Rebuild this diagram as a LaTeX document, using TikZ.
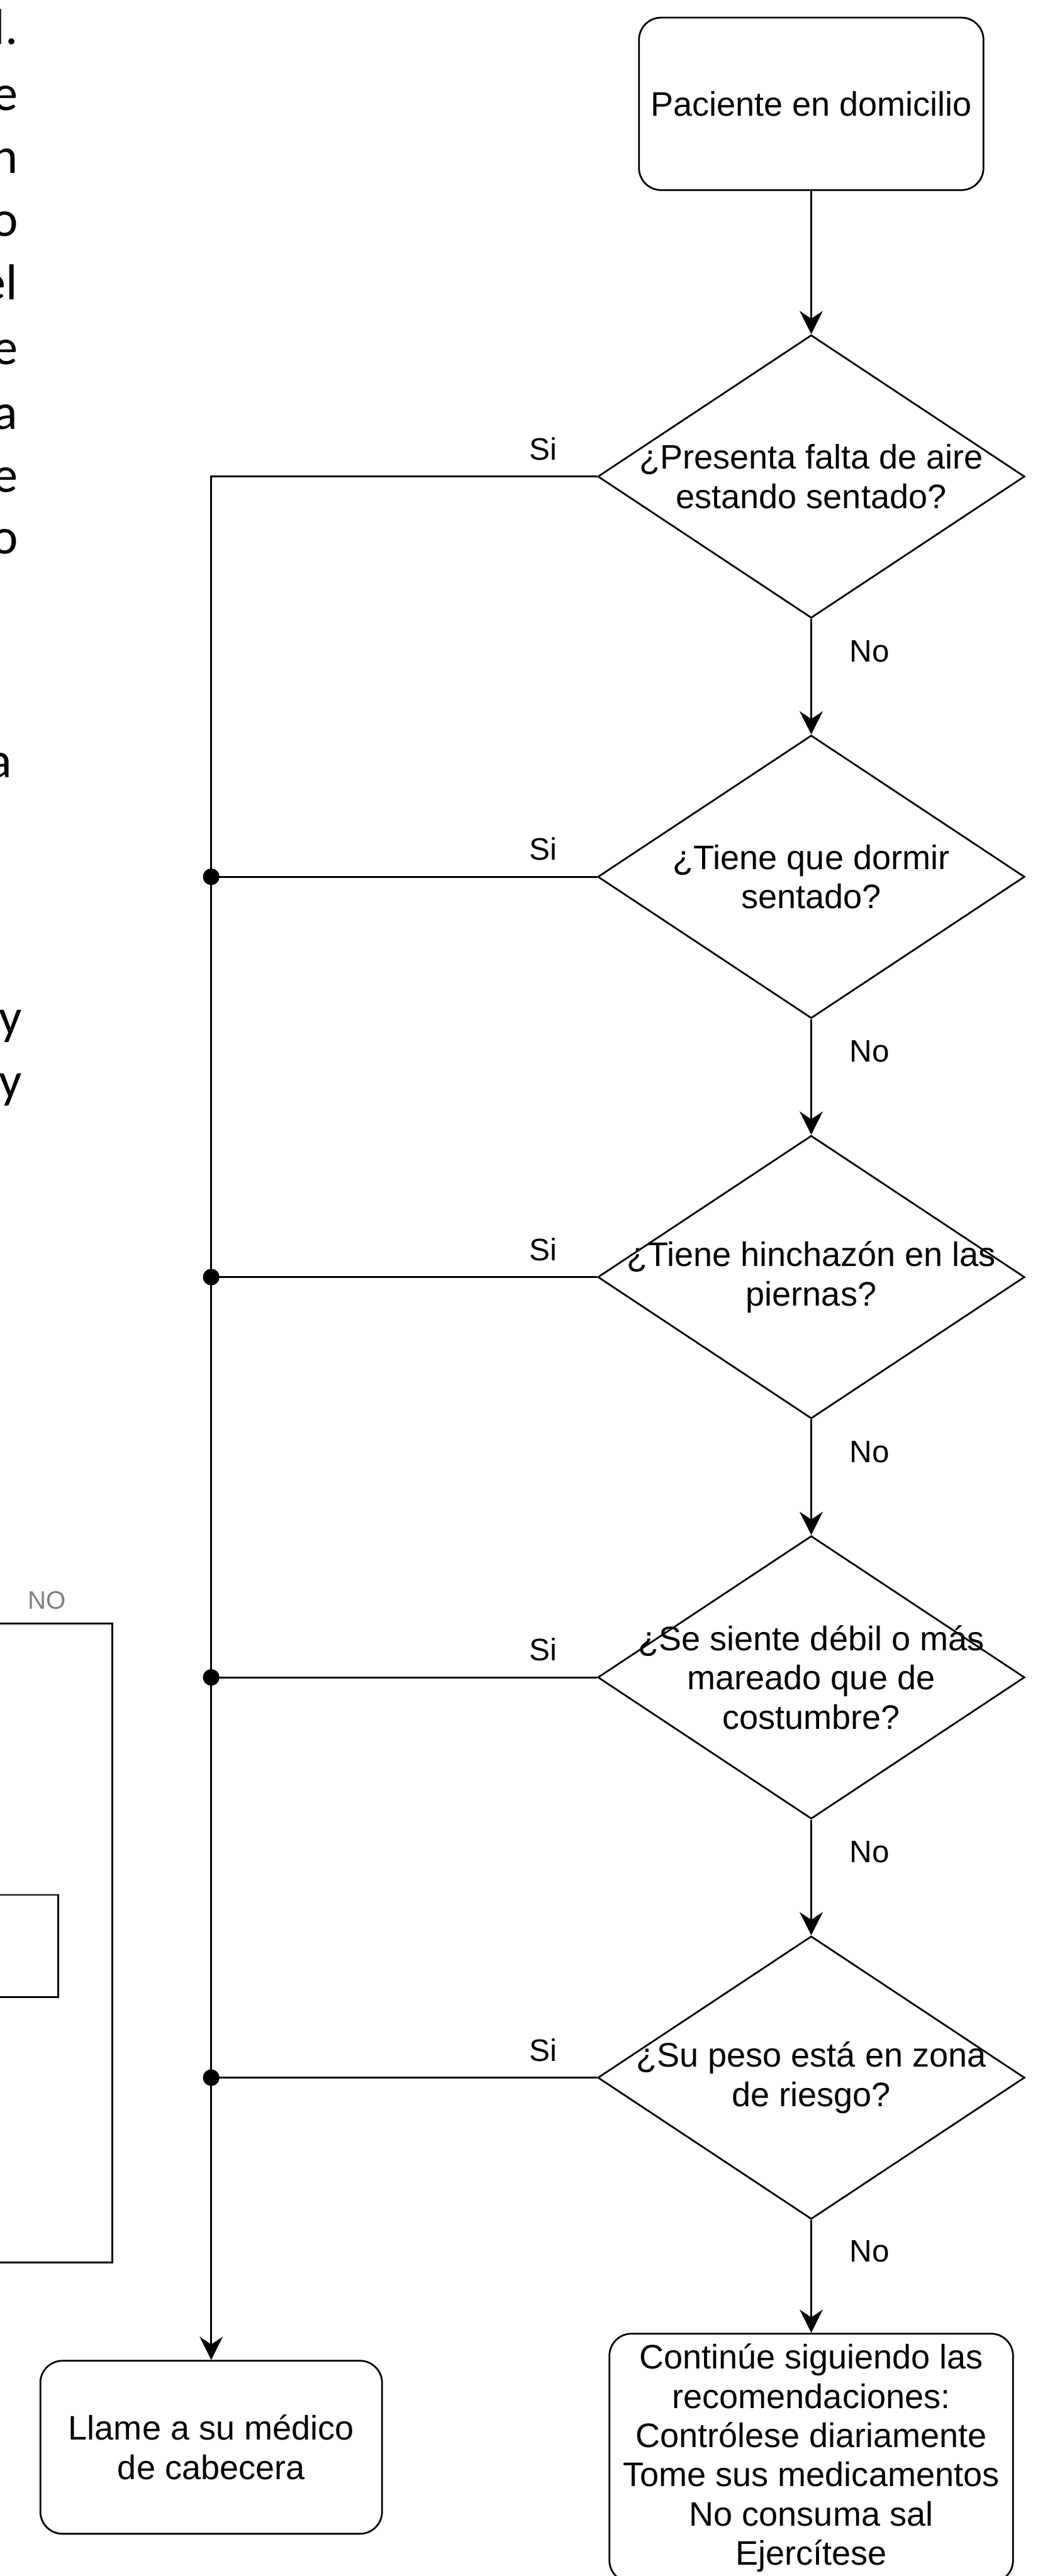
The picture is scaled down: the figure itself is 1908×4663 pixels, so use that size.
\documentclass[tikz,border=0pt]{standalone}
\usepackage{fontspec}
\setmainfont{Liberation Sans}
\newfontfamily\pagefont{Carlito}
\usepackage{tikz}
\usetikzlibrary{arrows.meta,positioning,shapes.geometric}

\begin{document}
\begin{tikzpicture}[
    x=0.01cm, y=-0.01cm,
    font=\fontsize{17.5}{20.2}\selectfont,
    terminal/.style={draw, rounded corners=4mm, align=center, line width=0.9pt},
    decision/.style={draw, diamond, aspect=1.5, align=center, line width=0.9pt, minimum width=7.72cm, minimum height=5.12cm, inner xsep=-9mm, inner ysep=0pt},
    lbl/.style={inner sep=0pt, font=\fontsize{16}{19}\selectfont},
    junction/.style={circle, fill, inner sep=0pt, minimum size=3mm},
    arrow/.style={-{Stealth[length=4.2mm, width=4.2mm, inset=1.4mm]}, line width=0.9pt},
    link/.style={line width=0.9pt},
    frag/.style={anchor=base east, inner sep=0pt, font=\pagefont\fontsize{26}{32}\selectfont}
]
\useasboundingbox (0,0) rectangle (1908,4663);
\clip (0,0) rectangle (1908,4663);

% Main column
\node[terminal, minimum width=6.23cm, minimum height=3.12cm] (start) at (1468,188) {Paciente en domicilio};
\node[decision, below=2.59cm of start] (q1) {¿Presenta falta de aire\\estando sentado?};
\node[decision, below=2.09cm of q1] (q2) {¿Tiene que dormir\\sentado?};
\node[decision, below=2.09cm of q2] (q3) {¿Tiene hinchazón en las\\piernas?};
\node[decision, below=2.09cm of q3] (q4) {¿Se siente débil o más\\mareado que de\\costumbre?};
\node[decision, below=2.09cm of q4] (q5) {¿Su peso está en zona\\de riesgo?};
\node[terminal, below=2.04cm of q5, minimum width=7.30cm, minimum height=4.5cm, inner ysep=1mm] (seguir) {Continúe siguiendo las\\recomendaciones:\\Contrólese diariamente\\Tome sus medicamentos\\No consuma sal\\Ejercítese};
\node[terminal, below left=0.49cm and 4.08cm of seguir.north west, minimum width=6.18cm, minimum height=3.13cm] (medico) {Llame a su médico\\de cabecera};

% Cut-off page text on the left
\node[frag] (t1) at (33,80) {l.};
\node[frag] (t2) at (33,200) {e};
\node[frag] (t3) at (33,314) {n};
\node[frag] (t4) at (34,428) {o};
\node[frag] (t5) at (32,543) {el};
\node[frag] (t6) at (33,660) {e};
\node[frag] (t7) at (33,777) {a};
\node[frag] (t8) at (33,891) {e};
\node[frag] (t9) at (34,1002) {o};
\node[frag] (t10) at (22,1408) {a};
\node[frag] (t11) at (40,1872) {y};
\node[frag] (t12) at (40,1987) {y};

\node[inner sep=0pt, text=gray, font=\fontsize{13}{15}\selectfont] (nolbl) at (85,2897) {NO};
\draw[link] (-5,2939) -| (203,4095) -- (-5,4095);
\draw[link] (-5,3430) -| (105,3615) -- (-5,3615);

% No branch
\draw[arrow] (start) -- (q1);
\draw[arrow] (q1) -- node[lbl, pos=0.28, right=6.8mm] {No} (q2);
\draw[arrow] (q2) -- node[lbl, pos=0.28, right=6.8mm] {No} (q3);
\draw[arrow] (q3) -- node[lbl, pos=0.28, right=6.8mm] {No} (q4);
\draw[arrow] (q4) -- node[lbl, pos=0.28, right=6.8mm] {No} (q5);
\draw[arrow] (q5) -- node[lbl, pos=0.28, right=6.8mm] {No} (seguir);

% Si branch
\draw[arrow] (q1.west) -| node[lbl, pos=0.07, above=2.8mm] {Si} (medico.north);
\draw[link] (q2.west) -- node[lbl, pos=0.14, above=2.8mm] {Si} (q2.west -| medico.north) node[junction] {};
\draw[link] (q3.west) -- node[lbl, pos=0.14, above=2.8mm] {Si} (q3.west -| medico.north) node[junction] {};
\draw[link] (q4.west) -- node[lbl, pos=0.14, above=2.8mm] {Si} (q4.west -| medico.north) node[junction] {};
\draw[link] (q5.west) -- node[lbl, pos=0.14, above=2.8mm] {Si} (q5.west -| medico.north) node[junction] {};

\end{tikzpicture}
\end{document}
